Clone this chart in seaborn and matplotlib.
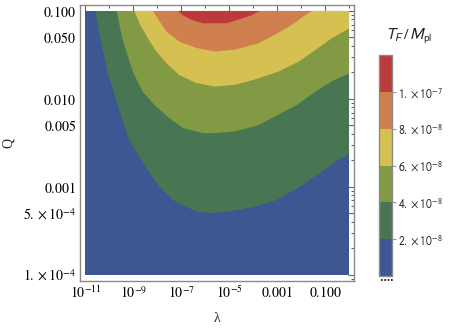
import numpy as np
import seaborn as sns
import matplotlib
matplotlib.use("Agg")
from matplotlib import pyplot as plt
from matplotlib import colors as mcolors
from matplotlib import ticker
from matplotlib.colorbar import ColorbarBase
from matplotlib.lines import Line2D

#-------------------------- chart values ---------------------------------
# contour levels of T_F / M_pl and the colour of each band
levels = [0.0, 2e-8, 4e-8, 6e-8, 8e-8, 1e-7, 1.2e-7]
band_colors = ["#3D5792", "#487652", "#829A43", "#D6C052", "#D0804E", "#BD3A3C"]
cbar_ticks = [2e-8, 4e-8, 6e-8, 8e-8, 1e-7]
cbar_labels = [r"$2.\times10^{-8}$", r"$4.\times10^{-8}$", r"$6.\times10^{-8}$",
               r"$8.\times10^{-8}$", r"$1.\times10^{-7}$"]

# plotted region
lam_range = [1e-11, 1.0]
q_range = [1e-4, 0.1]

# axis ticks
x_major = [1e-11, 1e-9, 1e-7, 1e-5, 1e-3, 1e-1]
x_major_labels = [r"$10^{-11}$", r"$10^{-9}$", r"$10^{-7}$", r"$10^{-5}$", r"$0.001$", r"$0.100$"]
x_minor = [1e-10, 1e-8, 1e-6, 1e-4, 1e-2, 1.0]
y_major = [1e-4, 5e-4, 1e-3, 5e-3, 1e-2, 5e-2, 0.1]
y_major_labels = [r"$1.\times10^{-4}$", r"$5.\times10^{-4}$", r"$0.001$", r"$0.005$",
                  r"$0.010$", r"$0.050$", r"$0.100$"]

# contour lines, as log10(lambda), log10(Q)
c2e8_loglam = [-10.58, -10.38, -10.07, -9.65, -9.16, -8.67, -8.32, -7.90, -7.35, -6.86,
               -6.37, -5.74, -4.97, -3.86, -3.02, -2.05, -1.21, -0.44, 0.0]
c2e8_logq = [-1.00, -1.31, -1.69, -2.07, -2.47, -2.69, -2.84, -3.00, -3.15, -3.22,
             -3.28, -3.30, -3.28, -3.22, -3.15, -3.00, -2.84, -2.69, -2.63]

c4e8_loglam = [-9.69, -9.46, -9.02, -8.60, -8.11, -7.49, -6.93, -6.09, -5.60, -4.77,
               -3.79, -2.95, -2.18, -1.42, -0.72, 0.0]
c4e8_logq = [-1.00, -1.31, -1.69, -1.92, -2.07, -2.22, -2.33, -2.39, -2.39, -2.37,
             -2.30, -2.18, -2.07, -1.92, -1.80, -1.71]

c6e8_loglam = [-8.95, -8.71, -8.39, -8.04, -7.56, -7.07, -6.37, -5.60, -4.77, -3.93,
               -2.95, -2.12, -1.28, -0.72, 0.0]
c6e8_logq = [-1.00, -1.16, -1.31, -1.46, -1.61, -1.73, -1.82, -1.86, -1.84, -1.78,
             -1.69, -1.58, -1.42, -1.31, -1.20]

c8e8_loglam = [-8.18, -7.90, -7.60, -7.07, -6.37, -5.60, -4.77, -3.79, -3.09, -2.39,
               -1.84, -1.53]
c8e8_logq = [-1.00, -1.12, -1.24, -1.35, -1.42, -1.46, -1.44, -1.37, -1.27, -1.16,
             -1.05, -1.00]

c1e7_loglam = [-7.14, -6.93, -6.58, -6.10, -5.60, -5.11, -4.63, -4.07, -3.72]
c1e7_logq = [-1.00, -1.05, -1.10, -1.14, -1.14, -1.14, -1.10, -1.05, -1.00]

contours = [(c2e8_loglam, c2e8_logq), (c4e8_loglam, c4e8_logq), (c6e8_loglam, c6e8_logq),
            (c8e8_loglam, c8e8_logq), (c1e7_loglam, c1e7_logq)]

#-------------------------- style ----------------------------------------
sns.set_style("white")
palette = sns.color_palette(band_colors)
plt.rcParams["mathtext.fontset"] = "stix"
plt.rcParams["font.family"] = ["Liberation Serif", "DejaVu Serif"]

fig = plt.figure(figsize=(4.49, 3.29), dpi=100)
ax = fig.add_axes([80 / 449, 1 - 280.7 / 329, 274.3 / 449, 275.7 / 329])
ax.set_xscale("log")
ax.set_yscale("log")

# lowest band covers the whole region
ax.fill([lam_range[0], lam_range[1], lam_range[1], lam_range[0]],
        [q_range[0], q_range[0], q_range[1], q_range[1]],
        color=palette[0], lw=0)

# each higher band is the region above its contour line
for i, (loglam, logq) in enumerate(contours):
    xs = list(10.0 ** np.array(loglam))
    ys = list(10.0 ** np.array(logq))
    if ys[-1] < q_range[1]:
        xs.append(lam_range[1])
        ys.append(q_range[1])
    ax.fill(xs, ys, color=palette[i + 1], lw=0)

ax.set_xlim(10 ** -11.22, 10 ** 0.22)
ax.set_ylim(10 ** -4.068, 10 ** -0.932)

ax.xaxis.set_major_locator(ticker.FixedLocator(x_major))
ax.xaxis.set_major_formatter(ticker.FixedFormatter(x_major_labels))
ax.xaxis.set_minor_locator(ticker.FixedLocator(x_minor))
ax.xaxis.set_minor_formatter(ticker.NullFormatter())
ax.yaxis.set_major_locator(ticker.FixedLocator(y_major))
ax.yaxis.set_major_formatter(ticker.FixedFormatter(y_major_labels))
ax.yaxis.set_minor_locator(ticker.LogLocator(base=10, subs=np.arange(2, 10)))
ax.yaxis.set_minor_formatter(ticker.NullFormatter())

ax.tick_params(which="both", direction="in", top=True, right=True, color="#666666",
               width=0.8, labelsize=10, labelcolor="black")
ax.tick_params(which="major", length=4, pad=3)
ax.tick_params(which="minor", length=2)
for sp in ax.spines.values():
    sp.set_color("#8a8a8a")
    sp.set_linewidth(1.0)

ax.set_xlabel("λ", fontsize=10, labelpad=8)
ax.set_ylabel("Q", fontsize=10, labelpad=6)

#-------------------------- colour bar -----------------------------------
cax = fig.add_axes([379.3 / 449, 1 - 276 / 329, 13 / 449, 221 / 329])
cmap = mcolors.ListedColormap(band_colors)
norm = mcolors.BoundaryNorm(levels, cmap.N)
cb = ColorbarBase(cax, cmap=cmap, norm=norm, boundaries=levels, ticks=cbar_ticks)
cb.outline.set_edgecolor("#8a8a8a")
cb.outline.set_linewidth(1.0)
cax.set_yticklabels(cbar_labels)
cax.tick_params(which="major", direction="out", length=3, width=0.8, color="#999999",
                labelsize=8.5, pad=1)
cax.minorticks_off()
for lab in cax.get_yticklabels():
    lab.set_math_fontfamily("stixsans")

fig.text(409 / 449, 1 - 36 / 329, r"$T_F\,/\,M_{\rm pl}$", fontsize=11.5,
         ha="center", va="center", math_fontfamily="stixsans")
fig.add_artist(Line2D([381 / 449, 392.5 / 449], [1 - 280 / 329, 1 - 280 / 329],
                      color="black", lw=1.2, ls=(0, (1, 1))))

fig.savefig("out.png", dpi=100)
